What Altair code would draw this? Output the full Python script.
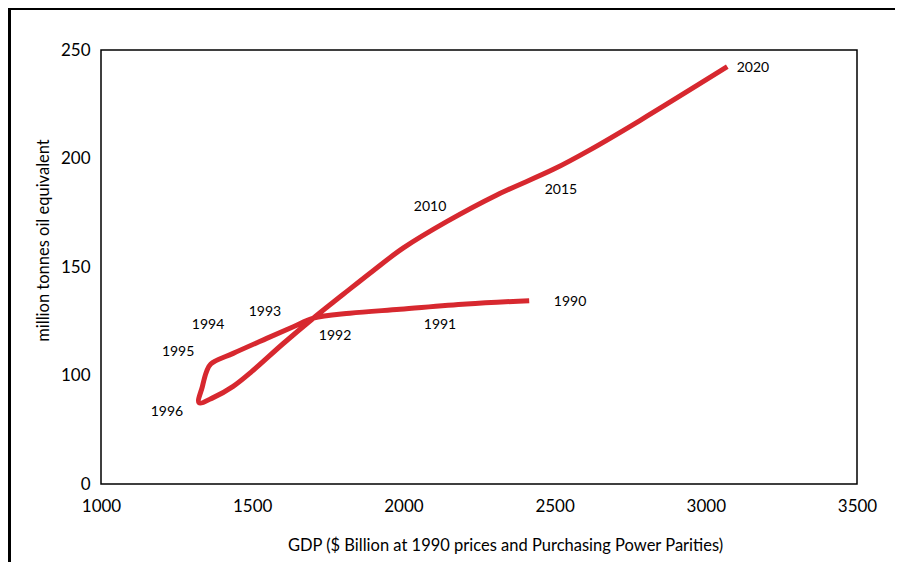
import altair as alt
import pandas as pd

# Trajectory of the curve, in drawing order
gdp = [2416, 2209, 1989, 1823, 1702, 1636, 1548, 1437, 1363, 1349, 1335, 1324,
       1371, 1437, 1500, 1600, 1702, 1800, 1900, 2000, 2143, 2309, 2496, 2617,
       2782, 3071]
energy = [134.5, 132.9, 130.5, 128.7, 126.4, 122.5, 117.1, 110.2, 105.3, 101.8, 94.8, 87.5,
          89.8, 95.0, 102.0, 114.4, 126.4, 137.3, 148.3, 158.8, 170.9, 183.2, 195.0, 204.0,
          217.5, 242.3]

# Year annotations
years = ["1990", "1991", "1992", "1993", "1994", "1995", "1996", "2010", "2015", "2020"]
year_gdp = [2551, 2121, 1774, 1542, 1354, 1255, 1218, 2088, 2521, 3156]
year_energy = [134.1, 123.3, 118.2, 129.3, 123.3, 110.8, 83.2, 177.6, 185.5, 241.7]

x_ticks = [1000, 1500, 2000, 2500, 3000, 3500]
y_ticks = [50, 100, 150, 200, 250]

W, H = 756, 434
PAD = {"left": 93, "top": 42, "right": 38, "bottom": 78}
FONT = "Lato"

curve_df = pd.DataFrame({"order": list(range(len(gdp))), "gdp": gdp, "energy": energy})
label_df = pd.DataFrame({"year": years, "gdp": year_gdp, "energy": year_energy})

x_scale = alt.Scale(domain=[1000, 3500], nice=False, zero=False)
y_scale = alt.Scale(domain=[50, 250], nice=False, zero=False)

x_enc = alt.X("gdp:Q", scale=x_scale,
              axis=alt.Axis(values=x_ticks, format="d", grid=False, ticks=False, tickSize=0,
                            domain=False, labelPadding=14, labelFontSize=17, labelFont=FONT,
                            labelColor="black", labelFlush=False, labelOverlap=False,
                            title="GDP ($ Billion at 1990 prices and Purchasing Power Parities)",
                            titleFont=FONT, titleFontSize=16.5, titleFontWeight="normal",
                            titleColor="black", titleX=404, titleY=61,
                            titleBaseline="middle"))
y_enc = alt.Y("energy:Q", scale=y_scale,
              axis=alt.Axis(values=y_ticks, grid=False, ticks=False, tickSize=0, domain=False,
                            labelPadding=11, labelFontSize=17, labelFont=FONT,
                            labelColor="black", labelFlush=False, labelOverlap=False,
                            labelExpr="datum.value == 50 ? '0' : datum.label",
                            title="million tonnes oil equivalent",
                            titleFont=FONT, titleFontSize=16.5, titleFontWeight="normal",
                            titleColor="black", titleX=-58, titleY=190,
                            titleBaseline="middle"))

line = alt.Chart(curve_df).mark_line(color="#d7282f", strokeWidth=5, interpolate="catmull-rom",
                                     strokeJoin="round", strokeCap="butt").encode(
    x=x_enc, y=y_enc, order="order:Q")

labels = alt.Chart(label_df).mark_text(font=FONT, fontSize=14, color="black").encode(
    x=alt.X("gdp:Q", scale=x_scale), y=alt.Y("energy:Q", scale=y_scale), text="year:N")

one = pd.DataFrame({"a": [0]})
frame_left = alt.Chart(one).mark_rule(color="black", strokeWidth=3).encode(
    x=alt.value(-91.5), y=alt.value(-42), y2=alt.value(H + PAD["bottom"]))
frame_top = alt.Chart(one).mark_rule(color="black", strokeWidth=3).encode(
    x=alt.value(-93), x2=alt.value(W + PAD["right"]), y=alt.value(-41.5))

chart = alt.layer(line, labels, frame_left, frame_top).properties(
    width=W, height=H, padding=PAD, autosize=alt.AutoSizeParams(type="none"),
    background="white"
).configure_view(stroke="black", strokeWidth=1.5)

chart.save("out.html", embed_options={"renderer": "svg", "actions": False})
